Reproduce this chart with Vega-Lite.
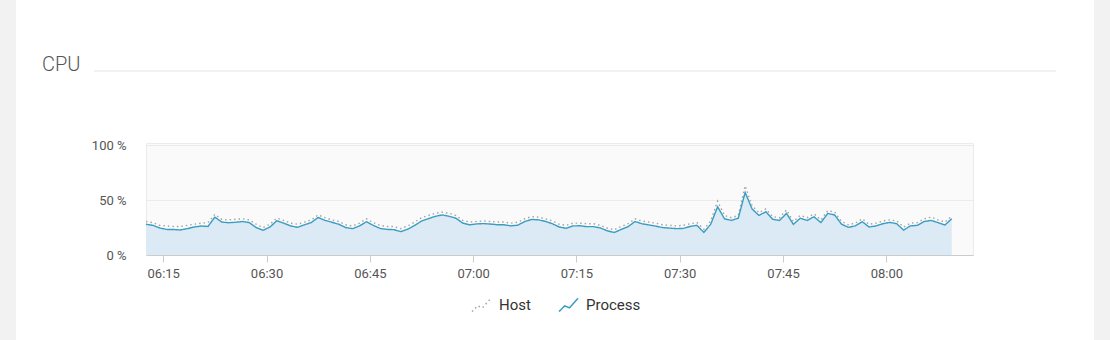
{
  "$schema": "https://vega.github.io/schema/vega-lite/v6.json",
  "width": 827,
  "height": 112,
  "autosize": {"type": "none"},
  "padding": {"left": 146, "top": 143, "right": 137, "bottom": 85},
  "background": "white",
  "config": {
    "font": "Roboto",
    "view": {"fill": "#fafafa", "stroke": "#ececec"}
  },
  "data": {"values": [
    {"t":"2024-01-01T06:12:30","Host":30.5,"Process":28},
    {"t":"2024-01-01T06:13:30","Host":29.5,"Process":27},
    {"t":"2024-01-01T06:14:30","Host":27,"Process":24.6},
    {"t":"2024-01-01T06:15:30","Host":26.5,"Process":23.3},
    {"t":"2024-01-01T06:16:30","Host":26,"Process":23.2},
    {"t":"2024-01-01T06:17:30","Host":26,"Process":22.8},
    {"t":"2024-01-01T06:18:30","Host":27,"Process":24},
    {"t":"2024-01-01T06:19:30","Host":28,"Process":25.5},
    {"t":"2024-01-01T06:20:30","Host":29,"Process":26.4},
    {"t":"2024-01-01T06:21:30","Host":29.5,"Process":26},
    {"t":"2024-01-01T06:22:30","Host":37,"Process":34.5},
    {"t":"2024-01-01T06:23:30","Host":32.5,"Process":30},
    {"t":"2024-01-01T06:24:30","Host":32,"Process":29.4},
    {"t":"2024-01-01T06:25:30","Host":32.5,"Process":29.8},
    {"t":"2024-01-01T06:26:30","Host":33,"Process":30.5},
    {"t":"2024-01-01T06:27:30","Host":32,"Process":29.5},
    {"t":"2024-01-01T06:28:30","Host":28,"Process":25},
    {"t":"2024-01-01T06:29:30","Host":25,"Process":22.5},
    {"t":"2024-01-01T06:30:30","Host":28,"Process":25.5},
    {"t":"2024-01-01T06:31:30","Host":33.5,"Process":31.2},
    {"t":"2024-01-01T06:32:30","Host":31.5,"Process":29},
    {"t":"2024-01-01T06:33:30","Host":29,"Process":26.5},
    {"t":"2024-01-01T06:34:30","Host":28,"Process":25.2},
    {"t":"2024-01-01T06:35:30","Host":30,"Process":27.5},
    {"t":"2024-01-01T06:36:30","Host":32,"Process":29.6},
    {"t":"2024-01-01T06:37:30","Host":36.5,"Process":34.2},
    {"t":"2024-01-01T06:38:30","Host":34,"Process":31.5},
    {"t":"2024-01-01T06:39:30","Host":32,"Process":29.8},
    {"t":"2024-01-01T06:40:30","Host":30.5,"Process":28},
    {"t":"2024-01-01T06:41:30","Host":27.5,"Process":25},
    {"t":"2024-01-01T06:42:30","Host":26.5,"Process":24},
    {"t":"2024-01-01T06:43:30","Host":29,"Process":26.5},
    {"t":"2024-01-01T06:44:30","Host":33,"Process":30.3},
    {"t":"2024-01-01T06:45:30","Host":29.5,"Process":27},
    {"t":"2024-01-01T06:46:30","Host":27,"Process":24.2},
    {"t":"2024-01-01T06:47:30","Host":26,"Process":23.3},
    {"t":"2024-01-01T06:48:30","Host":26,"Process":23.1},
    {"t":"2024-01-01T06:49:30","Host":24,"Process":21.3},
    {"t":"2024-01-01T06:50:30","Host":26.5,"Process":23.5},
    {"t":"2024-01-01T06:51:30","Host":30,"Process":26.9},
    {"t":"2024-01-01T06:52:30","Host":34,"Process":30.9},
    {"t":"2024-01-01T06:53:30","Host":36,"Process":33.1},
    {"t":"2024-01-01T06:54:30","Host":38,"Process":35.2},
    {"t":"2024-01-01T06:55:30","Host":39,"Process":36.5},
    {"t":"2024-01-01T06:56:30","Host":38,"Process":35.3},
    {"t":"2024-01-01T06:57:30","Host":36,"Process":33.5},
    {"t":"2024-01-01T06:58:30","Host":31.5,"Process":29},
    {"t":"2024-01-01T06:59:30","Host":30,"Process":27.5},
    {"t":"2024-01-01T07:00:30","Host":30.5,"Process":28.3},
    {"t":"2024-01-01T07:01:30","Host":31,"Process":28.6},
    {"t":"2024-01-01T07:02:30","Host":30.5,"Process":28.2},
    {"t":"2024-01-01T07:03:30","Host":30,"Process":27.6},
    {"t":"2024-01-01T07:04:30","Host":30,"Process":27.5},
    {"t":"2024-01-01T07:05:30","Host":29,"Process":26.5},
    {"t":"2024-01-01T07:06:30","Host":30,"Process":27.2},
    {"t":"2024-01-01T07:07:30","Host":33,"Process":30.5},
    {"t":"2024-01-01T07:08:30","Host":35,"Process":32.4},
    {"t":"2024-01-01T07:09:30","Host":34.5,"Process":32},
    {"t":"2024-01-01T07:10:30","Host":33,"Process":30.6},
    {"t":"2024-01-01T07:11:30","Host":31,"Process":28.5},
    {"t":"2024-01-01T07:12:30","Host":28,"Process":25.5},
    {"t":"2024-01-01T07:13:30","Host":27,"Process":24.3},
    {"t":"2024-01-01T07:14:30","Host":29,"Process":26.5},
    {"t":"2024-01-01T07:15:30","Host":29,"Process":26.6},
    {"t":"2024-01-01T07:16:30","Host":28.5,"Process":25.8},
    {"t":"2024-01-01T07:17:30","Host":28.5,"Process":25.8},
    {"t":"2024-01-01T07:18:30","Host":27,"Process":24.6},
    {"t":"2024-01-01T07:19:30","Host":24.5,"Process":22},
    {"t":"2024-01-01T07:20:30","Host":23,"Process":20.5},
    {"t":"2024-01-01T07:21:30","Host":26,"Process":23.3},
    {"t":"2024-01-01T07:22:30","Host":28.5,"Process":25.8},
    {"t":"2024-01-01T07:23:30","Host":33,"Process":30.5},
    {"t":"2024-01-01T07:24:30","Host":31,"Process":28.5},
    {"t":"2024-01-01T07:25:30","Host":30,"Process":27.4},
    {"t":"2024-01-01T07:26:30","Host":29,"Process":26.3},
    {"t":"2024-01-01T07:27:30","Host":27.5,"Process":25},
    {"t":"2024-01-01T07:28:30","Host":27,"Process":24.5},
    {"t":"2024-01-01T07:29:30","Host":26.5,"Process":24},
    {"t":"2024-01-01T07:30:30","Host":27,"Process":24.2},
    {"t":"2024-01-01T07:31:30","Host":28.5,"Process":26},
    {"t":"2024-01-01T07:32:30","Host":29.5,"Process":27},
    {"t":"2024-01-01T07:33:30","Host":23.5,"Process":20.6},
    {"t":"2024-01-01T07:34:30","Host":31,"Process":28},
    {"t":"2024-01-01T07:35:30","Host":49,"Process":43.9},
    {"t":"2024-01-01T07:36:30","Host":36,"Process":33},
    {"t":"2024-01-01T07:37:30","Host":34,"Process":31.5},
    {"t":"2024-01-01T07:38:30","Host":36,"Process":33.6},
    {"t":"2024-01-01T07:39:30","Host":63,"Process":57},
    {"t":"2024-01-01T07:40:30","Host":45,"Process":42},
    {"t":"2024-01-01T07:41:30","Host":38.5,"Process":36},
    {"t":"2024-01-01T07:42:30","Host":42,"Process":39.4},
    {"t":"2024-01-01T07:43:30","Host":35,"Process":32.5},
    {"t":"2024-01-01T07:44:30","Host":34,"Process":31.5},
    {"t":"2024-01-01T07:45:30","Host":41,"Process":37.9},
    {"t":"2024-01-01T07:46:30","Host":30.5,"Process":27.9},
    {"t":"2024-01-01T07:47:30","Host":36,"Process":33.5},
    {"t":"2024-01-01T07:48:30","Host":34,"Process":31.5},
    {"t":"2024-01-01T07:49:30","Host":37.5,"Process":34.8},
    {"t":"2024-01-01T07:50:30","Host":32,"Process":29.5},
    {"t":"2024-01-01T07:51:30","Host":40.5,"Process":37.9},
    {"t":"2024-01-01T07:52:30","Host":39,"Process":36.4},
    {"t":"2024-01-01T07:53:30","Host":30.5,"Process":28},
    {"t":"2024-01-01T07:54:30","Host":27.5,"Process":25.2},
    {"t":"2024-01-01T07:55:30","Host":29,"Process":26.5},
    {"t":"2024-01-01T07:56:30","Host":33,"Process":30.3},
    {"t":"2024-01-01T07:57:30","Host":28,"Process":25.5},
    {"t":"2024-01-01T07:58:30","Host":29,"Process":26.5},
    {"t":"2024-01-01T07:59:30","Host":31,"Process":28.5},
    {"t":"2024-01-01T08:00:30","Host":32,"Process":29.7},
    {"t":"2024-01-01T08:01:30","Host":31,"Process":28.5},
    {"t":"2024-01-01T08:02:30","Host":25.5,"Process":22.7},
    {"t":"2024-01-01T08:03:30","Host":29,"Process":26.5},
    {"t":"2024-01-01T08:04:30","Host":29.5,"Process":27},
    {"t":"2024-01-01T08:05:30","Host":33,"Process":30.5},
    {"t":"2024-01-01T08:06:30","Host":34.5,"Process":31.5},
    {"t":"2024-01-01T08:07:30","Host":32,"Process":29.5},
    {"t":"2024-01-01T08:08:30","Host":30,"Process":27.3},
    {"t":"2024-01-01T08:09:30","Host":35.5,"Process":33}
  ]},
  "layer": [
    {
      "mark": {"type": "area", "color": "#dbeaf4"},
      "encoding": {
        "x": {
          "field": "t", "type": "temporal",
          "scale": {"domain": [
            {"year": 2024, "month": 1, "date": 1, "hours": 6, "minutes": 12, "seconds": 30},
            {"year": 2024, "month": 1, "date": 1, "hours": 8, "minutes": 12, "seconds": 35}
          ]},
          "axis": {
            "title": null, "format": "%H:%M", "tickCount": 8,
            "labelFontSize": 13, "labelColor": "#555", "labelPadding": 5,
            "tickColor": "#cccccc", "tickSize": 7, "domainColor": "#cccccc",
            "grid": false, "labelFlush": false
          }
        },
        "y": {
          "field": "Process", "type": "quantitative",
          "scale": {"domain": [0, 102], "nice": false},
          "axis": {
            "title": null, "values": [0, 50, 100],
            "labelExpr": "datum.value + ' %'",
            "ticks": false, "domain": false,
            "gridColor": "#ebebeb", "labelPadding": 20,
            "labelFontSize": 13, "labelColor": "#555"
          }
        }
      }
    },
    {
      "transform": [{"fold": ["Host", "Process"], "as": ["series", "value"]}],
      "mark": {"type": "line", "strokeWidth": 1.4},
      "encoding": {
        "x": {"field": "t", "type": "temporal"},
        "y": {"field": "value", "type": "quantitative"},
        "color": {
          "field": "series", "type": "nominal",
          "scale": {"domain": ["Host", "Process"], "range": ["#a3a3a3", "#3a9cc0"]},
          "legend": {
            "title": null, "orient": "none", "legendX": 325, "legendY": 151,
            "direction": "horizontal", "labelFontSize": 15, "labelColor": "#333",
            "symbolType": "M-1,0.7L-0.4,0.1L0.1,0.3L1,-0.7",
            "symbolSize": 361, "symbolStrokeWidth": 1.5,
            "columnPadding": 25, "labelOffset": 7
          }
        },
        "strokeDash": {
          "field": "series", "type": "nominal",
          "scale": {"domain": ["Host", "Process"], "range": [[1.5, 3], [1, 0]]}
        }
      }
    },
    {
      "data": {"values": [{}]},
      "mark": {"type": "rule", "color": "#e3e3e3", "strokeWidth": 1},
      "encoding": {
        "x": {"datum": {"year": 2024, "month": 1, "date": 1, "hours": 6, "minutes": 4, "seconds": 57}, "type": "temporal"},
        "x2": {"datum": {"year": 2024, "month": 1, "date": 1, "hours": 8, "minutes": 24, "seconds": 38}},
        "y": {"datum": 167.6, "type": "quantitative"}
      }
    },
    {
      "data": {"values": [{}]},
      "mark": {"type": "rect", "color": "#f2f2f2"},
      "encoding": {
        "x": {"datum": {"year": 2024, "month": 1, "date": 1, "hours": 5, "minutes": 51, "seconds": 18}, "type": "temporal"},
        "x2": {"datum": {"year": 2024, "month": 1, "date": 1, "hours": 5, "minutes": 53, "seconds": 37}},
        "y": {"datum": 240, "type": "quantitative"},
        "y2": {"datum": -85}
      }
    },
    {
      "data": {"values": [{}]},
      "mark": {"type": "rect", "color": "#f2f2f2"},
      "encoding": {
        "x": {"datum": {"year": 2024, "month": 1, "date": 1, "hours": 8, "minutes": 30, "seconds": 9}, "type": "temporal"},
        "x2": {"datum": {"year": 2024, "month": 1, "date": 1, "hours": 8, "minutes": 32, "seconds": 40}},
        "y": {"datum": 240, "type": "quantitative"},
        "y2": {"datum": -85}
      }
    },
    {
      "data": {"values": [{}]},
      "mark": {"type": "text", "text": "CPU", "fontSize": 20, "fontWeight": 300, "color": "#555", "align": "left", "baseline": "middle"},
      "encoding": {
        "x": {"datum": {"year": 2024, "month": 1, "date": 1, "hours": 5, "minutes": 57, "seconds": 24}, "type": "temporal"},
        "y": {"datum": 173, "type": "quantitative"}
      }
    }
  ]
}
